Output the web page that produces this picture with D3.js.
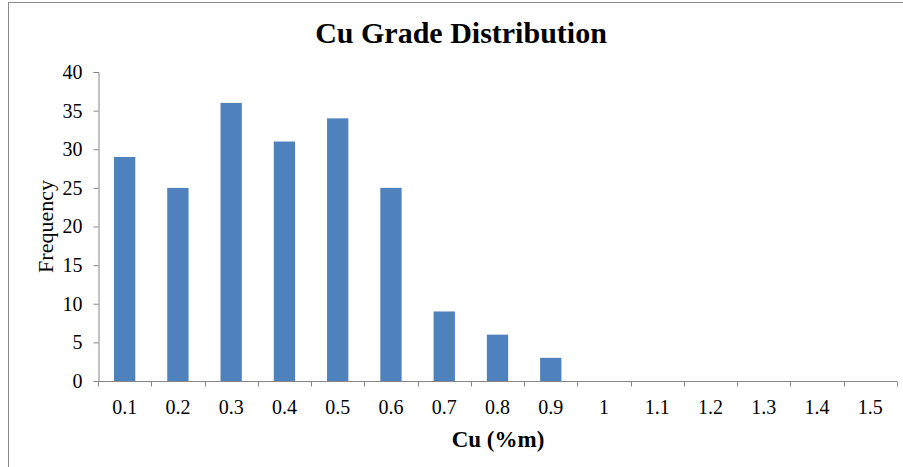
<!DOCTYPE html>
<html>
<head>
<meta charset="utf-8">
<script src="https://cdn.jsdelivr.net/npm/d3@7"></script>
<style>
  body { margin: 0; background: #fff; }
  svg text { font-family: "Liberation Serif", "Times New Roman", serif; fill: #000; }
</style>
</head>
<body>
<div class="container"></div>
<script>
let categories = ['0.1', '0.2', '0.3', '0.4', '0.5', '0.6', '0.7', '0.8', '0.9', '1', '1.1', '1.2', '1.3', '1.4', '1.5']
let frequency = [29, 25, 36, 31, 34, 25, 9, 6, 3, 0, 0, 0, 0, 0, 0]
let yTicks = [0, 5, 10, 15, 20, 25, 30, 35, 40]

let width = 903
let height = 467
let margin = { top: 72, left: 98, bottom: 86, right: 6 }

let data = categories.map((c, i) => ({ cat: c, value: frequency[i] }))

let svg = d3.select('.container')
    .append('svg')
    .attr('width', width)
    .attr('height', height)

// outer chart border (runs off the right and bottom edge)
svg.append('rect')
    .attr('x', 8.5)
    .attr('y', 2.5)
    .attr('width', width + 10)
    .attr('height', height + 10)
    .attr('fill', 'none')
    .attr('stroke', '#868686')
    .attr('stroke-width', 1)

let xScale = d3.scaleBand()
    .domain(categories)
    .range([margin.left, width - margin.right])
    .paddingInner(0.6)
    .paddingOuter(0.3)

let yScale = d3.scaleLinear()
    .domain([0, 40])
    .range([height - margin.bottom, margin.top])

svg.selectAll('rect.bar')
    .data(data)
    .enter()
    .append('rect')
    .attr('class', 'bar')
    .attr('x', d => xScale(d.cat))
    .attr('y', d => yScale(d.value))
    .attr('width', xScale.bandwidth())
    .attr('height', d => yScale(0) - yScale(d.value))
    .attr('fill', '#4f81bd')

let yAxis = d3.axisLeft(yScale)
    .tickValues(yTicks)
    .tickSize(5)
    .tickPadding(11)

let gy = svg.append('g')
    .attr('transform', `translate(${margin.left + 0.5},0)`)
    .call(yAxis)
gy.select('.domain').attr('stroke', '#868686')
gy.selectAll('.tick line').attr('stroke', '#868686')
gy.selectAll('.tick text').style('font-size', '20px')

// x axis: ticks sit on the category boundaries
let boundaries = d3.range(categories.length + 1).map(i => margin.left + i * (width - margin.left - margin.right) / categories.length)

let gx = svg.append('g')
    .attr('transform', `translate(0,${yScale(0) + 0.5})`)
gx.append('line')
    .attr('x1', margin.left)
    .attr('x2', width - margin.right)
    .attr('stroke', '#868686')
gx.selectAll('line.tick')
    .data(boundaries)
    .enter()
    .append('line')
    .attr('class', 'tick')
    .attr('x1', d => Math.round(d) + 0.5)
    .attr('x2', d => Math.round(d) + 0.5)
    .attr('y1', 0)
    .attr('y2', 5)
    .attr('stroke', '#868686')
gx.selectAll('text')
    .data(categories)
    .enter()
    .append('text')
    .attr('x', d => xScale(d) + xScale.bandwidth() / 2)
    .attr('y', 32)
    .attr('text-anchor', 'middle')
    .style('font-size', '20px')
    .text(d => d)

svg.append('text')
    .attr('x', 461)
    .attr('y', 43)
    .attr('text-anchor', 'middle')
    .style('font-size', '30px')
    .style('font-weight', 'bold')
    .text('Cu Grade Distribution')

svg.append('text')
    .attr('x', 498)
    .attr('y', 447)
    .attr('text-anchor', 'middle')
    .style('font-size', '23px')
    .style('font-weight', 'bold')
    .text('Cu (%m)')

svg.append('text')
    .attr('transform', `translate(53,${(yScale(0) + yScale(40)) / 2}) rotate(-90)`)
    .attr('text-anchor', 'middle')
    .style('font-size', '22px')
    .text('Frequency')
</script>
</body>
</html>
